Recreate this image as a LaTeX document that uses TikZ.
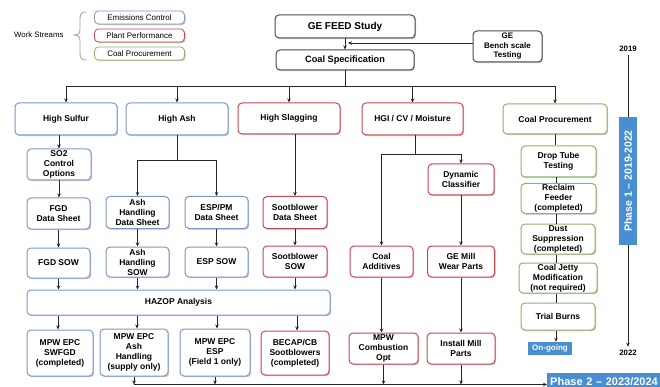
\documentclass[tikz,border=0pt]{standalone}
\usepackage{fontspec}
\setmainfont{Liberation Sans}
\usetikzlibrary{shadows,arrows.meta}
\definecolor{blueE}{RGB}{125,152,200}
\definecolor{redP}{RGB}{200,72,82}
\definecolor{greenC}{RGB}{140,182,100}
\definecolor{grayT}{RGB}{75,75,75}
\definecolor{barblue}{RGB}{72,142,208}
\tikzset{
  box/.style={rounded corners=4pt, line width=1pt, fill=white, align=center,
    inner sep=1pt, font=\bfseries\fontsize{8.5}{10}\selectfont,
    drop shadow={shadow xshift=1.2pt, shadow yshift=-1.2pt, opacity=0.45, fill=gray}},
  ebox/.style={box, draw=blueE},
  pbox/.style={box, draw=redP},
  cbox/.style={box, draw=greenC},
  tbox/.style={box, draw=grayT},
  lgd/.style={box, line width=0.8pt, font=\fontsize{8}{9}\selectfont, minimum width=90pt, minimum height=13pt},
  conn/.style={line width=0.9pt, draw=black!85},
  arr/.style={conn, -{Stealth[length=4pt,width=3.5pt]}},
  bar/.style={fill=barblue, text=white, font=\bfseries, inner sep=0pt}
}
\begin{document}
\begin{tikzpicture}[x=1pt,y=-1pt]
\useasboundingbox[fill=white] (0,0) rectangle (660,387);

% legend
\node[anchor=east, font=\fontsize{7.8}{9}\selectfont] (ws) at (67,35) {Work Streams};
\draw[gray!75, line width=0.8pt] (86,12) .. controls (81,12) and (80,14) .. (80,20) -- (80,29) .. controls (80,34) and (78,35) .. (73,35) .. controls (78,35) and (80,36) .. (80,41) -- (80,52) .. controls (80,58) and (81,60) .. (86,60);
\node[lgd, draw=blueE] (lg1) at (139.5,17.5) {Emissions Control};
\node[lgd, draw=redP] (lg2) at (139.5,35.5) {Plant Performance};
\node[lgd, draw=greenC] (lg3) at (139.5,53.5) {Coal Procurement};

% top
\node[tbox, minimum width=140pt, minimum height=23pt, font=\bfseries\fontsize{10}{12}\selectfont] (feed) at (345,26.5) {GE FEED Study};
\node[tbox, minimum width=138pt, minimum height=20pt, font=\bfseries\fontsize{9.2}{11}\selectfont] (spec) at (345,60) {Coal Specification};
\node[tbox, minimum width=69pt, minimum height=31pt, font=\bfseries\fontsize{8}{9.5}\selectfont] (bench) at (507.5,46.5) {GE\\Bench scale\\Testing};
\draw[arr] (feed.south) -- (spec.north);
\coordinate (midr) at (348,43);
\draw[arr] (bench.west |- midr) -- (midr);

% level 1
\node[ebox, minimum width=102pt, minimum height=32pt] (hs) at (66,119) {High Sulfur};
\node[ebox, minimum width=102pt, minimum height=32pt] (ha) at (177,119) {High Ash};
\node[pbox, minimum width=102pt, minimum height=31pt] (hsl) at (289,118.5) {High Slagging};
\node[pbox, minimum width=101pt, minimum height=32pt] (hgi) at (412.5,119) {HGI / CV / Moisture};
\node[cbox, minimum width=104pt, minimum height=30pt] (cp) at (555,119) {Coal Procurement};

\coordinate (bus) at (0,86);
\draw[conn] (spec.south) -- (spec.south |- bus);
\draw[conn] (hs.north |- bus) -- (cp.north |- bus);
\foreach \n in {hs,ha,hsl,hgi,cp} { \draw[arr] (\n.north |- bus) -- (\n.north); }

% high sulfur column
\node[ebox, minimum width=64pt, minimum height=31pt] (so2) at (59,164.5) {SO2\\Control\\Options};
\node[ebox, minimum width=63pt, minimum height=31pt] (fgdds) at (58.5,213.5) {FGD\\Data Sheet};
\node[ebox, minimum width=63pt, minimum height=30pt] (fgdsow) at (58.5,263) {FGD SOW};
\draw[arr] (so2.north |- hs.south) -- (so2.north);
\draw[arr] (so2.south) -- (so2.south |- fgdds.north);
\draw[arr] (fgdds.south) -- (fgdds.south |- fgdsow.north);

% high ash column
\node[ebox, minimum width=63pt, minimum height=32pt] (ahds) at (137.5,212.5) {Ash\\Handling\\Data Sheet};
\node[ebox, minimum width=63pt, minimum height=32pt] (espds) at (216.5,212.5) {ESP/PM\\Data Sheet};
\node[ebox, minimum width=63pt, minimum height=30pt] (ahsow) at (137.5,262) {Ash\\Handling\\SOW};
\node[ebox, minimum width=63pt, minimum height=30pt] (espsow) at (216.5,262) {ESP SOW};
\coordinate (abus) at (0,160);
\draw[conn] (ha.south) -- (ha.south |- abus);
\draw[conn] (ahds.north |- abus) -- (espds.north |- abus);
\draw[arr] (ahds.north |- abus) -- (ahds.north);
\draw[arr] (espds.north |- abus) -- (espds.north);
\draw[arr] (ahds.south) -- (ahsow.north);
\draw[arr] (espds.south) -- (espsow.north);

% slagging column
\node[pbox, minimum width=64pt, minimum height=32pt] (sbds) at (295,212.5) {Sootblower\\Data Sheet};
\node[pbox, minimum width=64pt, minimum height=31pt] (sbsow) at (295,261.5) {Sootblower\\SOW};
\draw[arr] (sbds.north |- hsl.south) -- (sbds.north);
\draw[arr] (sbds.south) -- (sbsow.north);

% HAZOP
\node[ebox, minimum width=303pt, minimum height=25pt] (hazop) at (178.5,302.5) {HAZOP Analysis};
\foreach \n in {fgdsow,ahsow,espsow,sbsow} { \draw[arr] (\n.south) -- (\n.south |- hazop.north); }

% bottom row (emissions / slagging)
\node[ebox, minimum width=66pt, minimum height=46pt] (m1) at (60,353) {MPW EPC\\SWFGD\\(completed)};
\node[ebox, minimum width=68pt, minimum height=47pt] (m2) at (134,352.5) {MPW EPC\\Ash\\Handling\\(supply only)};
\node[ebox, minimum width=70pt, minimum height=47pt] (m3) at (215,352.5) {MPW EPC\\ESP\\(Field 1 only)};
\node[pbox, minimum width=68pt, minimum height=44pt] (m4) at (295,353) {BECAP/CB\\Sootblowers\\(completed)};
\foreach \n/\xx in {m1/58,m2/137,m3/217,m4/297} { \draw[arr] (\xx,0 |- hazop.south) -- (\xx,0 |- \n.north); }

% HGI column
\node[pbox, minimum width=66pt, minimum height=31pt] (dc) at (461,179.5) {Dynamic\\Classifier};
\node[pbox, minimum width=63pt, minimum height=31pt] (ca) at (381.5,261.5) {Coal\\Additives};
\node[pbox, minimum width=67pt, minimum height=31pt] (gem) at (461,261.5) {GE Mill\\Wear Parts};
\node[pbox, minimum width=69pt, minimum height=31pt] (mpwc) at (383.5,348.5) {MPW\\Combustion\\Opt};
\node[pbox, minimum width=68pt, minimum height=31pt] (imp) at (461,348.5) {Install Mill\\Parts};
\coordinate (hbus) at (0,154);
\draw[conn] (415,0 |- hgi.south) -- (415,0 |- hbus);
\draw[conn] (ca.north |- hbus) -- (dc.north |- hbus);
\draw[arr] (ca.north |- hbus) -- (ca.north);
\draw[arr] (dc.north |- hbus) -- (dc.north);
\draw[arr] (dc.south) -- (gem.north);
\draw[arr] (ca.south) -- (ca.south |- mpwc.north);
\draw[arr] (gem.south) -- (imp.north);

% coal procurement column
\node[cbox, minimum width=75pt, minimum height=31pt] (dtt) at (558.5,161.5) {Drop Tube\\Testing};
\node[cbox, minimum width=75pt, minimum height=30pt] (rf) at (558.5,198.5) {Reclaim\\Feeder\\(completed)};
\node[cbox, minimum width=74pt, minimum height=30pt] (ds) at (558,239) {Dust\\Suppression\\(completed)};
\node[cbox, minimum width=78pt, minimum height=30pt] (cj) at (558,278) {Coal Jetty\\Modification\\(not required)};
\node[cbox, minimum width=74pt, minimum height=27pt] (tb) at (558,316.5) {Trial Burns};
\node[bar, minimum width=44pt, minimum height=13pt, font=\bfseries\fontsize{8}{9}\selectfont] (og) at (550,348.5) {On-going};
\draw[conn] (cp.south) -- (cp.south |- dtt.north);
\draw[conn] (556,0 |- dtt.south) -- (556,0 |- rf.north);
\draw[conn] (556,0 |- rf.south) -- (556,0 |- ds.north);
\draw[conn] (556,0 |- ds.south) -- (556,0 |- cj.north);
\draw[conn] (556,0 |- cj.south) -- (556,0 |- tb.north);
\draw[arr] (556,0 |- tb.south) -- (556,0 |- og.north);

% phase 1 timeline
\node[font=\bfseries\fontsize{7.8}{9}\selectfont] (y19) at (628,49) {2019};
\node[bar, minimum width=18pt, minimum height=128pt] (ph1) at (628,181) {};
\node[rotate=90, text=white, font=\bfseries\fontsize{10.5}{12}\selectfont] (ph1t) at (628,181) {Phase 1 -- 2019-2022};
\node[font=\bfseries\fontsize{7.8}{9}\selectfont] (y22) at (628,353) {2022};
\draw[conn] (y19.south) -- (ph1.north);
\draw[arr] (ph1.south) -- (y22.north);

% phase 2
\node[bar, anchor=north west, minimum width=120pt, minimum height=16pt, text width=116pt, align=left, inner xsep=3pt, font=\bfseries\fontsize{11}{12}\selectfont] (ph2) at (547,373) {Phase 2 -- 2023/2024};
\coordinate (bl) at (0,384.5);
\draw[arr] (m2.south |- bl) -- (ph2.west |- bl);
\foreach \n in {m2,m3,mpwc,imp} { \draw[arr] (\n.south) -- (\n.south |- bl); }
\end{tikzpicture}
\end{document}
